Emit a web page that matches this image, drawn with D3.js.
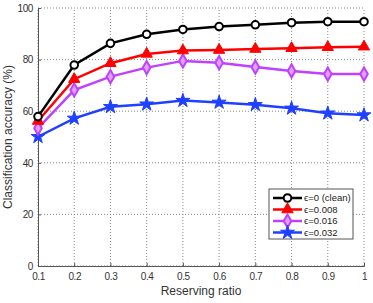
<!DOCTYPE html>
<html>
<head>
<meta charset="utf-8">
<script src="https://cdn.jsdelivr.net/npm/d3@7"></script>
<style>
  html, body { margin: 0; padding: 0; background: white; }
  svg { display: block; font-family: "Liberation Sans", Arial, sans-serif; }
</style>
</head>
<body>
<svg id="chart"></svg>
<script>
const ratios = [0.1, 0.2, 0.3, 0.4, 0.5, 0.6, 0.7, 0.8, 0.9, 1.0];
const clean = [57.9, 77.9, 86.3, 89.8, 91.7, 92.8, 93.5, 94.3, 94.7, 94.7];
const eps008 = [56.2, 72.4, 78.6, 82.2, 83.5, 83.7, 84.1, 84.4, 84.8, 85.0];
const eps016 = [53.4, 68.2, 73.4, 76.9, 79.5, 78.8, 77.1, 75.6, 74.4, 74.4];
const eps032 = [50.1, 57.2, 61.7, 62.7, 64.1, 63.4, 62.5, 61.1, 59.2, 58.5];
const seriesNames = ['\u03f5=0 (clean)', '\u03f5=0.008', '\u03f5=0.016', '\u03f5=0.032'];
const xTicks = [0.1, 0.2, 0.3, 0.4, 0.5, 0.6, 0.7, 0.8, 0.9, 1];
const yTicks = [0, 20, 40, 60, 80, 100];

const width = 373, height = 303;
const margin = { left: 38, right: 9, top: 8, bottom: 37 };

const series = [
  { name: seriesNames[0], values: clean, color: '#000000', marker: 'circle' },
  { name: seriesNames[1], values: eps008, color: '#ff0000', marker: 'triangle' },
  { name: seriesNames[2], values: eps016, color: '#c040ff', marker: 'diamond' },
  { name: seriesNames[3], values: eps032, color: '#2040ff', marker: 'star' },
];

const svg = d3.select('#chart')
  .attr('width', width)
  .attr('height', height);

const x = d3.scaleLinear().domain([0.1, 1]).range([margin.left, width - margin.right]);
const y = d3.scaleLinear().domain([0, 100]).range([height - margin.bottom, margin.top]);

// grid
svg.append('g')
  .selectAll('line')
  .data(xTicks)
  .join('line')
  .attr('x1', (d) => x(d)).attr('x2', (d) => x(d))
  .attr('y1', y(0)).attr('y2', y(100))
  .attr('stroke', '#888')
  .attr('stroke-width', 1)
  .attr('stroke-dasharray', '1,2');

svg.append('g')
  .selectAll('line')
  .data(yTicks)
  .join('line')
  .attr('x1', x(0.1)).attr('x2', x(1))
  .attr('y1', (d) => y(d)).attr('y2', (d) => y(d))
  .attr('stroke', '#888')
  .attr('stroke-width', 1)
  .attr('stroke-dasharray', '1,2');

// axes
const xAxis = svg.append('g')
  .attr('transform', `translate(0,${y(0)})`)
  .call(d3.axisBottom(x).tickValues(xTicks).tickSize(-3).tickPadding(7)
    .tickFormat((d) => d === 1 ? '1' : d3.format('.1f')(d)));
const yAxis = svg.append('g')
  .attr('transform', `translate(${x(0.1)},0)`)
  .call(d3.axisLeft(y).tickValues(yTicks).tickSize(-3).tickPadding(5));

[xAxis, yAxis].forEach((a) => {
  a.select('.domain').attr('stroke', '#555').attr('stroke-width', 1);
  a.selectAll('.tick line').attr('stroke', '#555');
  a.selectAll('.tick text')
    .attr('fill', '#333')
    .attr('font-size', 10)
    .attr('letter-spacing', -0.4)
    .attr('font-family', '"Liberation Sans", Arial, sans-serif');
});

// markers
const symbolFor = {
  circle: d3.symbol(d3.symbolCircle, 45),
  triangle: d3.symbol(d3.symbolTriangle, 55),
  diamond: d3.symbol(d3.symbolDiamond, 50),
  star: d3.symbol(d3.symbolStar, 60),
};

const drawMarker = (g, s) => {
  const p = g.append('path').attr('d', symbolFor[s.marker]());
  if (s.marker === 'circle') {
    p.attr('fill', 'white').attr('stroke', s.color).attr('stroke-width', 2);
  } else if (s.marker === 'diamond') {
    p.attr('fill', '#e0a0ff').attr('stroke', s.color).attr('stroke-width', 2);
  } else {
    p.attr('fill', s.color).attr('stroke', s.color).attr('stroke-width', 1);
  }
  return p;
};

const line = d3.line().x((d, i) => x(ratios[i])).y((d) => y(d));

series.slice().reverse().forEach((s) => {
  svg.append('path')
    .datum(s.values)
    .attr('d', line)
    .attr('fill', 'none')
    .attr('stroke', s.color)
    .attr('stroke-width', 2.5);
  s.values.forEach((v, i) => {
    const g = svg.append('g').attr('transform', `translate(${x(ratios[i])},${y(v)})`);
    drawMarker(g, s);
  });
});

// legend
const lg = svg.append('g').attr('transform', 'translate(269,189)');
lg.append('rect')
  .attr('width', 84).attr('height', 50)
  .attr('fill', 'white')
  .attr('stroke', '#555')
  .attr('stroke-width', 1);
series.forEach((s, i) => {
  const yy = 9 + i * 11.5;
  lg.append('line')
    .attr('x1', 4).attr('x2', 33)
    .attr('y1', yy).attr('y2', yy)
    .attr('stroke', s.color)
    .attr('stroke-width', 2.5);
  drawMarker(lg.append('g').attr('transform', `translate(18.5,${yy})`), s);
  lg.append('text')
    .attr('x', 35).attr('y', yy)
    .attr('dy', '0.35em')
    .attr('font-size', 9.5)
    .attr('fill', '#222')
    .text(s.name);
});

// axis labels
svg.append('text')
  .attr('x', (x(0.1) + x(1)) / 2)
  .attr('y', 295)
  .attr('text-anchor', 'middle')
  .attr('font-size', 12)
  .attr('fill', '#333')
  .text('Reserving ratio');

svg.append('text')
  .attr('transform', `translate(12,${(y(0) + y(100)) / 2}) rotate(-90)`)
  .attr('text-anchor', 'middle')
  .attr('font-size', 12)
  .attr('fill', '#333')
  .text('Classification accuracy (%)');
</script>
</body>
</html>
